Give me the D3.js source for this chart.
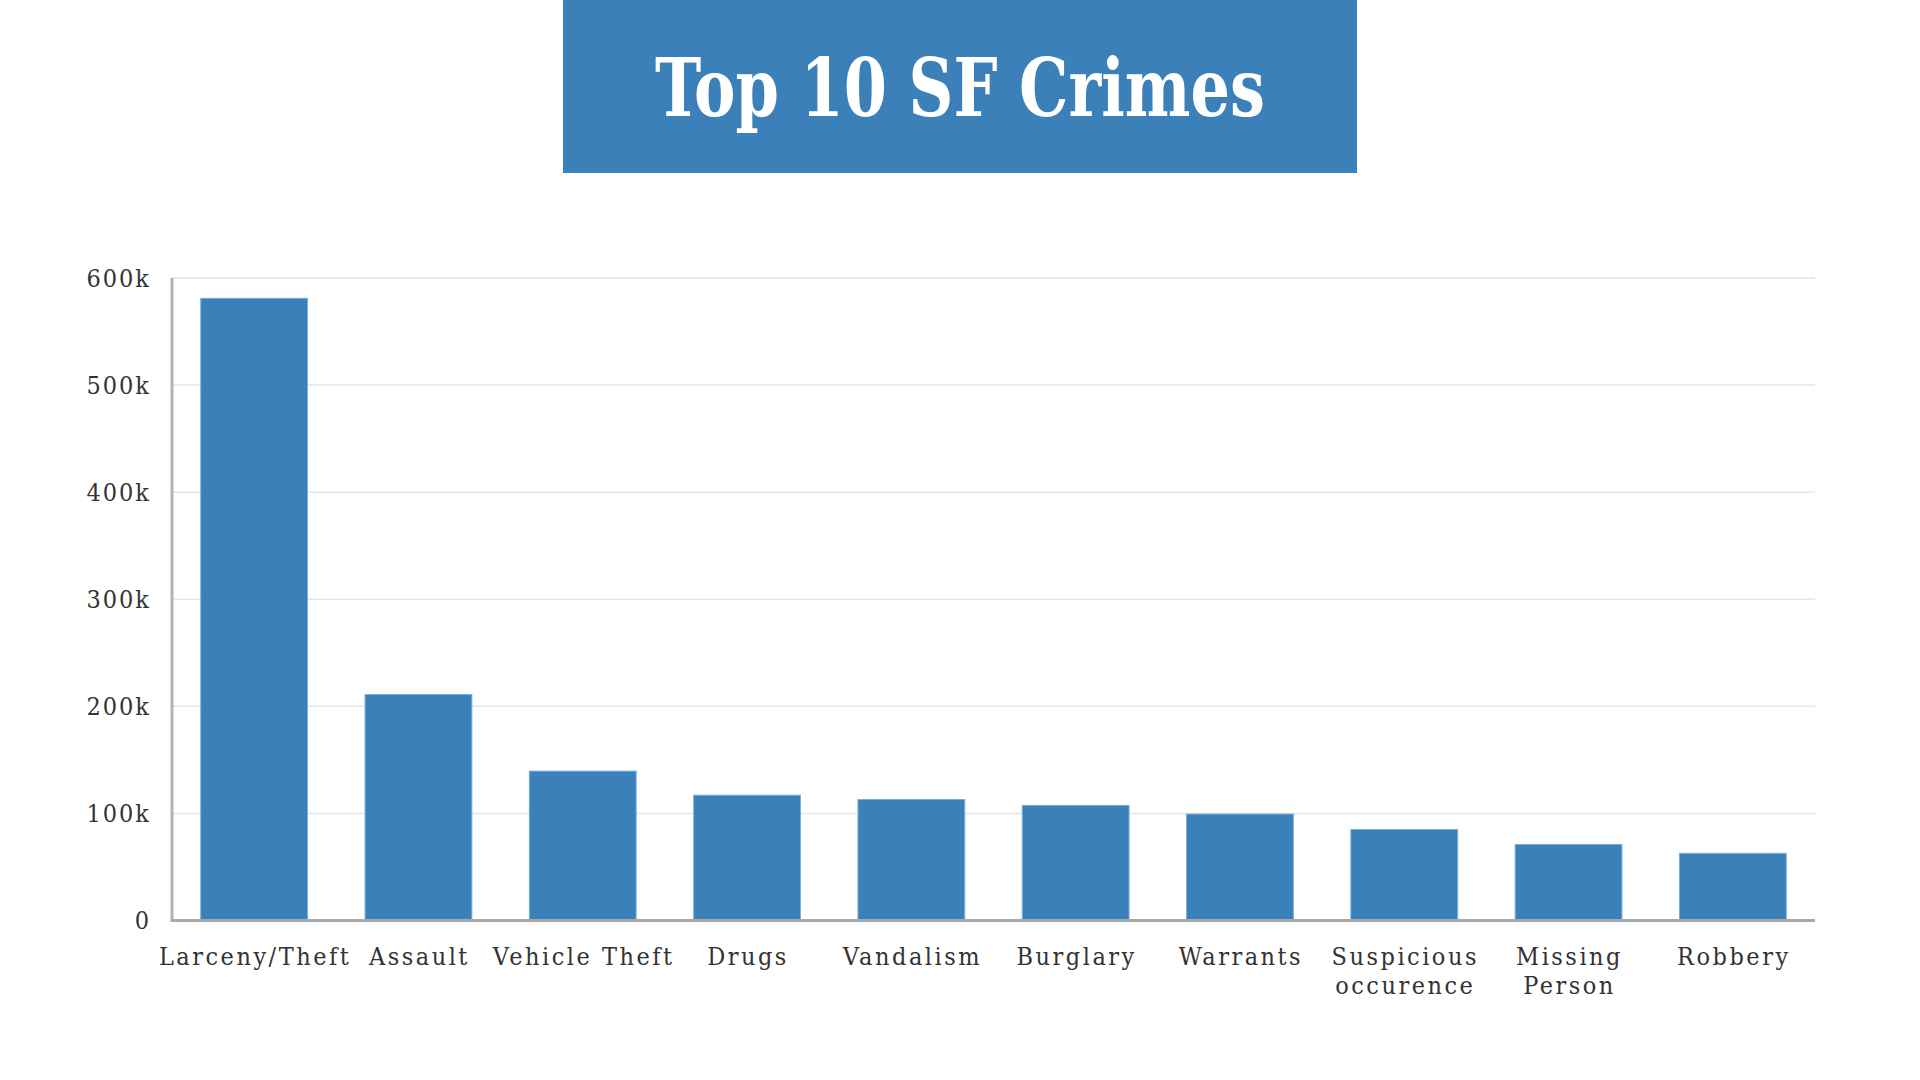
<!DOCTYPE html>
<html>
<head>
<meta charset="utf-8">
<script src="https://cdn.jsdelivr.net/npm/d3@7"></script>
<style>
  body { margin: 0; background: #fff; }
  svg { display: block; }
  .lbl { font-family: "DejaVu Serif Condensed", "DejaVu Serif", serif; font-stretch: condensed; fill: #333; }
</style>
</head>
<body>
<svg id="chart"></svg>
<script>
const title = 'Top 10 SF Crimes';
const crimes = ['Larceny/Theft', 'Assault', 'Vehicle Theft', 'Drugs', 'Vandalism', 'Burglary', 'Warrants', 'Suspicious\noccurence', 'Missing\nPerson', 'Robbery'];
const counts = [581000, 211000, 139500, 117000, 113000, 107500, 99400, 85000, 71000, 62700];
const yTicks = [0, 100000, 200000, 300000, 400000, 500000, 600000];

const W = 1920, H = 1080;
const plotL = 172, plotR = 1815, plotT = 278, plotB = 920.5;
const blue = '#3b80b9';

const svg = d3.select('#chart').attr('width', W).attr('height', H);

// title banner
svg.append('rect')
  .attr('x', 563).attr('y', 0)
  .attr('width', 794).attr('height', 173)
  .attr('fill', blue);
svg.append('text')
  .attr('x', 960).attr('y', 116)
  .attr('text-anchor', 'middle')
  .attr('textLength', 610)
  .attr('lengthAdjust', 'spacingAndGlyphs')
  .style('font-family', '"DejaVu Serif", serif')
  .style('font-weight', 'bold')
  .style('font-size', '80px')
  .style('fill', '#fff')
  .text(title);

const x = d3.scaleBand()
  .domain(crimes)
  .range([plotL, plotR])
  .paddingInner(0.35)
  .paddingOuter(0.175);

const y = d3.scaleLinear()
  .domain([0, 600000])
  .range([plotB, plotT]);

// gridlines
svg.append('g')
  .selectAll('line')
  .data(yTicks.filter(d => d > 0))
  .join('line')
  .attr('x1', plotL).attr('x2', plotR)
  .attr('y1', d => y(d)).attr('y2', d => y(d))
  .attr('stroke', '#e5e5e5')
  .attr('stroke-width', 1.5);

// y axis labels
const yAxis = svg.append('g')
  .attr('transform', `translate(${plotL},0)`)
  .call(d3.axisLeft(y).tickValues(yTicks).tickSize(0).tickPadding(21)
    .tickFormat(d => d === 0 ? '0' : (d / 1000) + 'k'));
yAxis.select('.domain').remove();
yAxis.selectAll('text')
  .attr('class', 'lbl')
  .style('font-size', '25px')
  .style('letter-spacing', '2px');

// bars
svg.append('g')
  .selectAll('rect')
  .data(crimes)
  .join('rect')
  .attr('x', d => x(d))
  .attr('y', (d, i) => y(counts[i]))
  .attr('width', x.bandwidth())
  .attr('height', (d, i) => y(0) - y(counts[i]))
  .attr('fill', blue)
  .attr('stroke', '#78aedb')
  .attr('stroke-width', 1);

// axis lines
svg.append('line')
  .attr('x1', plotL).attr('x2', plotL)
  .attr('y1', plotT).attr('y2', plotB)
  .attr('stroke', '#b3b3b3').attr('stroke-width', 3);
svg.append('line')
  .attr('x1', plotL - 1.5).attr('x2', plotR)
  .attr('y1', plotB).attr('y2', plotB)
  .attr('stroke', '#aaaaaa').attr('stroke-width', 3);

// x labels, split on newline
const xl = svg.append('g')
  .selectAll('text')
  .data(crimes)
  .join('text')
  .attr('class', 'lbl')
  .attr('text-anchor', 'middle')
  .attr('x', d => x(d) + x.bandwidth() / 2 + 1)
  .attr('y', 965)
  .style('font-size', '25px')
  .style('letter-spacing', '2.5px');
xl.selectAll('tspan')
  .data(d => d.split('\n'))
  .join('tspan')
  .attr('x', function () { return d3.select(this.parentNode).attr('x'); })
  .attr('dy', (d, i) => i === 0 ? 0 : 29)
  .text(d => d);
</script>
</body>
</html>
